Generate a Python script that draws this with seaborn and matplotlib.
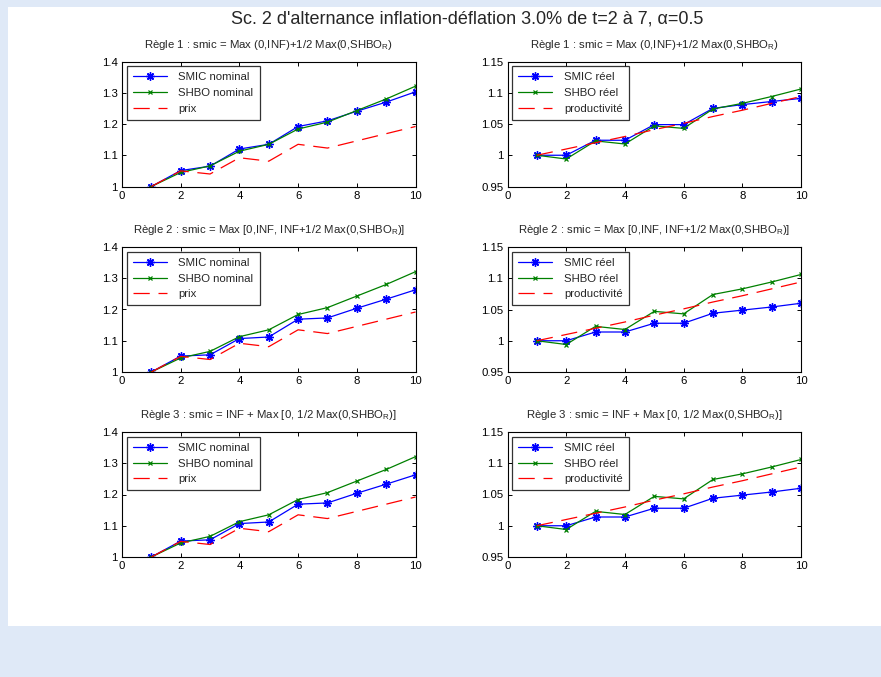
import matplotlib
matplotlib.use("Agg")
import matplotlib.pyplot as plt
import matplotlib.patches as mpatches
import seaborn as sns
import pandas as pd

# periods
t = [1, 2, 3, 4, 5, 6, 7, 8, 9, 10]

# nominal series
prix = [1.0, 1.05, 1.04, 1.092, 1.081, 1.135, 1.123, 1.146, 1.169, 1.192]
shbo_nominal = [1.0, 1.045, 1.066, 1.113, 1.135, 1.184, 1.206, 1.243, 1.28, 1.321]
smic_nominal_r1 = [1.0, 1.051, 1.065, 1.12, 1.135, 1.192, 1.21, 1.241, 1.27, 1.303]
smic_nominal_r2 = [1.0, 1.051, 1.055, 1.107, 1.112, 1.169, 1.173, 1.204, 1.233, 1.263]
smic_nominal_r3 = [1.0, 1.051, 1.055, 1.107, 1.112, 1.169, 1.173, 1.204, 1.233, 1.263]

# real series
productivite = [1.0, 1.01, 1.02, 1.03, 1.041, 1.051, 1.062, 1.072, 1.083, 1.094]
shbo_reel = [1.0, 0.994, 1.023, 1.018, 1.047, 1.043, 1.074, 1.083, 1.094, 1.106]
smic_reel_r1 = [1.0, 1.0, 1.024, 1.024, 1.049, 1.049, 1.075, 1.081, 1.086, 1.091]
smic_reel_r2 = [1.0, 1.0, 1.014, 1.014, 1.028, 1.028, 1.044, 1.049, 1.054, 1.06]
smic_reel_r3 = [1.0, 1.0, 1.014, 1.014, 1.028, 1.028, 1.044, 1.049, 1.054, 1.06]

titles = [
    r"Règle 1 : smic = Max (0,INF)+1/2 Max(0,SHBO$_\mathregular{R}$)",
    r"Règle 2 : smic = Max [0,INF, INF+1/2 Max(0,SHBO$_\mathregular{R}$)]",
    r"Règle 3 : smic = INF + Max [0, 1/2 Max(0,SHBO$_\mathregular{R}$)]",
]
suptitle = "Sc. 2 d'alternance inflation-déflation 3.0% de t=2 à 7, α=0.5"

left_yticks = [1, 1.1, 1.2, 1.3, 1.4]
left_yticklabels = ["1", "1.1", "1.2", "1.3", "1.4"]
right_yticks = [0.95, 1, 1.05, 1.1, 1.15]
right_yticklabels = ["0.95", "1", "1.05", "1.1", "1.15"]
xticks = [0, 2, 4, 6, 8, 10]

sns.set_theme(style="white")
plt.rcParams["font.family"] = ["Liberation Sans", "DejaVu Sans"]
plt.rcParams["mathtext.fontset"] = "custom"
plt.rcParams["mathtext.rm"] = "Liberation Sans"
plt.rcParams["mathtext.it"] = "Liberation Sans:italic"

BLUE = (0, 0, 1)
GREEN = (0, 0.5, 0)
RED = (1, 0, 0)
DASH = (0, (13, 7))
STAR = (8, 2, 0)  # eight-armed asterisk
FS = 8.2

fig = plt.figure(figsize=(8.81, 6.77), dpi=100)
fig.patch.set_facecolor("#dfe9f7")
fig.patches.append(mpatches.Rectangle((8 / 881, 1 - 626 / 677), 1, (626 - 7) / 677,
                                      transform=fig.transFigure, facecolor="white",
                                      edgecolor="none", zorder=-10))

lefts = [122 / 881, 507.5 / 881]
width = 293.5 / 881
bottoms = [1 - 186.5 / 677, 1 - 372 / 677, 1 - 557 / 677]
height = 125 / 677

nominal = [smic_nominal_r1, smic_nominal_r2, smic_nominal_r3]
reel = [smic_reel_r1, smic_reel_r2, smic_reel_r3]


def style_axes(ax, yticks, ylabels, ylim):
    ax.set_xlim(0, 10)
    ax.set_ylim(*ylim)
    ax.set_xticks(xticks)
    ax.set_xticklabels([str(v) for v in xticks])
    ax.set_yticks(yticks)
    ax.set_yticklabels(ylabels)
    ax.tick_params(direction="in", length=3, width=0.7, labelsize=FS,
                   top=True, right=True, bottom=True, left=True, pad=3, colors="black")
    for s in ax.spines.values():
        s.set_color("black")
        s.set_linewidth(0.8)
        s.set_visible(True)
    ax.set_xlabel("")
    ax.set_ylabel("")


def add_legend(ax):
    leg = ax.legend(loc="upper left", fontsize=FS, frameon=True, fancybox=False,
                    edgecolor="black", handlelength=3.0, borderaxespad=0.4,
                    labelspacing=0.5, borderpad=0.55, handletextpad=1.0)
    leg.get_frame().set_linewidth(0.9)


def draw(ax, data, smic_label, shbo_label, ref_label):
    sns.lineplot(data=data, x="t", y="smic", ax=ax, color=BLUE, marker=STAR, markersize=6,
                 markeredgecolor=BLUE, markeredgewidth=1.0, linewidth=0.9, label=smic_label)
    sns.lineplot(data=data, x="t", y="shbo", ax=ax, color=GREEN, marker="x", markersize=3.5,
                 markeredgecolor=GREEN, markeredgewidth=0.9, linewidth=0.9, label=shbo_label)
    sns.lineplot(data=data, x="t", y="ref", ax=ax, color=RED, linestyle=DASH,
                 linewidth=0.9, label=ref_label)


for i in range(3):
    axL = fig.add_axes([lefts[0], bottoms[i], width, height])
    df = pd.DataFrame({"t": t, "smic": nominal[i], "shbo": shbo_nominal, "ref": prix})
    draw(axL, df, "SMIC nominal", "SHBO nominal", "prix")
    style_axes(axL, left_yticks, left_yticklabels, (1, 1.4))
    axL.set_title(titles[i], fontsize=FS, pad=10)
    add_legend(axL)

    axR = fig.add_axes([lefts[1], bottoms[i], width, height])
    dr = pd.DataFrame({"t": t, "smic": reel[i], "shbo": shbo_reel, "ref": productivite})
    draw(axR, dr, "SMIC réel", "SHBO réel", "productivité")
    style_axes(axR, right_yticks, right_yticklabels, (0.95, 1.15))
    axR.set_title(titles[i], fontsize=FS, pad=10)
    add_legend(axR)

fig.text(0.53, 1 - 19 / 677, suptitle, ha="center", va="center", fontsize=13)

fig.savefig("out.png", dpi=100, facecolor=fig.get_facecolor())
